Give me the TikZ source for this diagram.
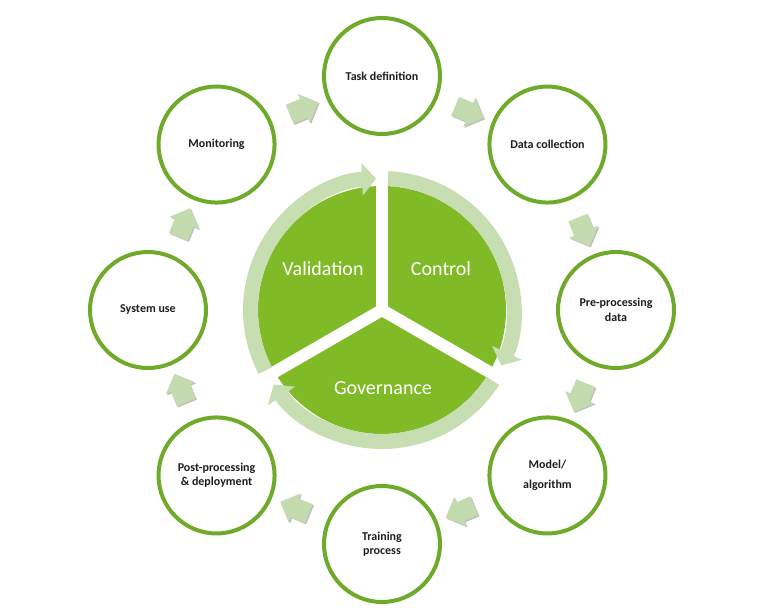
\documentclass[tikz,border=0pt]{standalone}
\usepackage{fontspec}
\setmainfont{Carlito}
\usetikzlibrary{arrows.meta,shapes.arrows,shadows}
\definecolor{ink}{HTML}{1E1E1E}
\definecolor{leaf}{HTML}{80BA27}
\definecolor{rim}{HTML}{6FAA2B}
\definecolor{pale}{HTML}{C6DEB2}
\definecolor{flowfill}{HTML}{C4DBAF}

\begin{document}
\begin{tikzpicture}[x=1pt,y=1pt,
  stage/.style={circle,draw=rim,line width=4pt,fill=white,minimum size=116pt,inner sep=0pt,align=center,text=ink,font=\bfseries\fontsize{12}{14.4}\selectfont},
  flow/.style={single arrow,fill=flowfill,minimum height=31pt,inner xsep=0pt,inner ysep=10pt,single arrow head extend=5.5pt,sloped,allow upside down,midway,
    drop shadow={shadow xshift=1.2pt,shadow yshift=-1.2pt,opacity=.25,fill=black}},
  ring/.style={pale,line width=15pt,-{Triangle[length=14pt,width=32pt]}},
  inner/.style={text=white,font=\fontsize{20}{24}\selectfont}]
\useasboundingbox (-382,-303) rectangle (386,310);
% centre wheel
\fill[leaf] (0,0) circle (124);
\foreach \a in {90,-30,210} \draw[white,line width=12pt] (0,0) -- (\a:126);
\draw[ring] (87.4:131.5) arc[start angle=87.4,end angle=-25,radius=131.5];
\draw[ring] (-32.6:131.5) arc[start angle=-32.6,end angle=-145.5,radius=131.5];
\draw[ring] (207.4:131.5) arc[start angle=207.4,end angle=92.6,radius=131.5];
\node[inner] (val) at (-59,41) {Validation};\node[inner] (ctrl) at (59,41) {Control};\node[inner] (gov) at (1,-78) {Governance};
% outer stages
\node[stage] (task) at (90:234) {Task definition};
\node[stage] (data) at (45:234) {Data collection};
\node[stage] (prep) at (0:234) {Pre-processing\\data};
\node[stage] (model) at (-45:234) {Model/\\[5pt]algorithm};
\node[stage] (train) at (-90:234) {Training\\process};
\node[stage] (post) at (-135:234) {Post-processing\\\& deployment};
\node[stage] (use) at (180:234) {System use};
\node[stage] (mon) at (135:234) {Monitoring};
% block arrows between stages
\path (task) -- (data) node[flow] (f1) {};\path (data) -- (prep) node[flow] (f2) {};
\path (prep) -- (model) node[flow] (f3) {};\path (model) -- (train) node[flow] (f4) {};
\path (train) -- (post) node[flow] (f5) {};\path (post) -- (use) node[flow] (f6) {};
\path (use) -- (mon) node[flow] (f7) {};\path (mon) -- (task) node[flow] (f8) {};
\end{tikzpicture}
\end{document}
